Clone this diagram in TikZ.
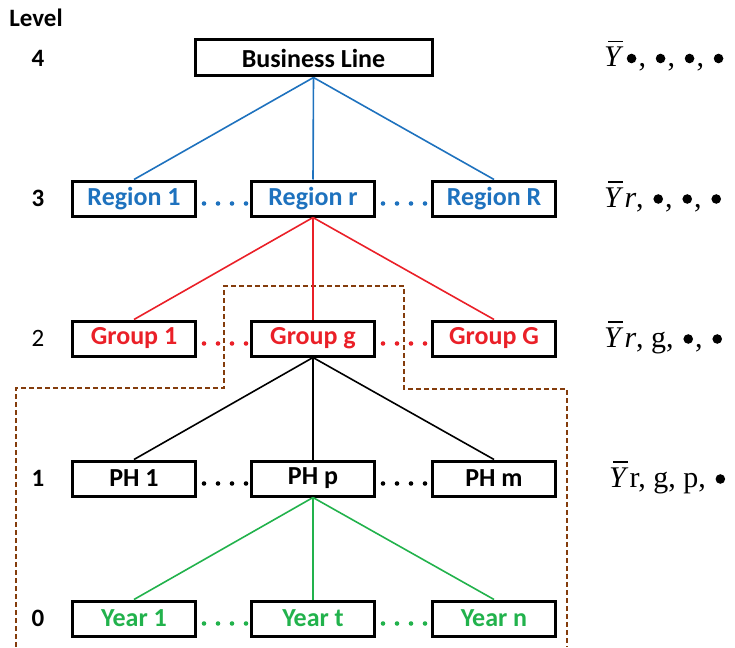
\documentclass[tikz,border=0pt]{standalone}
\usepackage{fontspec}
\setmainfont{Carlito}
\newfontfamily\symf{Liberation Serif}
\definecolor{cblue}{RGB}{30,114,190}
\definecolor{cred}{RGB}{234,32,40}
\definecolor{cgreen}{RGB}{34,178,76}
\definecolor{cbrown}{RGB}{132,60,12}
% mean symbol: italic Y with a short bar
\newcommand{\ybar}{\rlap{\hspace{0.13em}\rule[0.82em]{0.5em}{0.05em}}\textit{Y}}
% large placeholder bullet
\newcommand{\bul}{\hbox to 14pt{\hss\tikz[baseline={(0pt,-8.5pt)}]{\fill (0pt,0pt) circle (4.8pt);}\hss}}
\begin{document}
\begin{tikzpicture}[x=1pt,y=-1pt,
  box/.style={draw=black, line width=3pt, minimum width=123pt, minimum height=35pt,
    inner sep=0pt, font=\fontsize{26}{30}\selectfont\bfseries},
  conn/.style={line width=1.6pt},
  lvl/.style={font=\fontsize{25}{30}\selectfont\bfseries, inner sep=0pt},
  mean/.style={anchor=base west, inner sep=0pt, font=\symf\fontsize{30}{34}\selectfont},
  boundary/.style={draw=cbrown, line width=2pt, dash pattern=on 5pt off 3pt}]
\useasboundingbox (0,0) rectangle (735,647);

% level labels
\node[lvl] (lev) at (36,18) {Level};
\node[lvl] (l4) at (38,58) {4};
\node[lvl] (l3) at (38,198.5) {3};
\node[lvl, font=\fontsize{25}{30}\selectfont] (l2) at (38,338.5) {2};
\node[lvl] (l1) at (38,478.5) {1};
\node[lvl] (l0) at (38,618.5) {0};

% dashed boundary
\draw[boundary] (16,647) -- (16,388) -- (224,388) -- (224,286) -- (404,286)
  -- (404,389) -- (567,389) -- (567,647);

% boxes
\node[box, minimum width=237pt, minimum height=36pt] (bl) at (313.5,58) {Business Line};

\node[box, text=cblue] (r1) at (134,198.5) {Region 1};
\node[box, text=cblue] (rr) at (313,198.5) {Region r};
\node[box, text=cblue] (rR) at (494,198.5) {Region R};

\node[box, text=cred] (g1) at (134,338.5) {Group 1};
\node[box, text=cred] (gg) at (313,338.5) {Group g};
\node[box, text=cred] (gG) at (494,338.5) {Group G};

\node[box] (p1) at (134,478.5) {PH 1};
\node[box] (pp) at (313,478.5) {PH p};
\node[box] (pm) at (494,478.5) {PH m};

\node[box, text=cgreen] (y1) at (134,618.5) {Year 1};
\node[box, text=cgreen] (yt) at (313,618.5) {Year t};
\node[box, text=cgreen] (yn) at (494,618.5) {Year n};

% connectors
\draw[conn, cblue] (bl.south) -- (r1.north);
\draw[conn, cblue] (bl.south) -- (rr.north);
\draw[conn, cblue] (bl.south) -- (rR.north);
\draw[conn, cred] (rr.south) -- (g1.north);
\draw[conn, cred] (rr.south) -- (gg.north);
\draw[conn, cred] (rr.south) -- (gG.north);
\draw[conn, black] (gg.south) -- (p1.north);
\draw[conn, black] (gg.south) -- (pp.north);
\draw[conn, black] (gg.south) -- (pm.north);
\draw[conn, cgreen] (pp.south) -- (y1.north);
\draw[conn, cgreen] (pp.south) -- (yt.north);
\draw[conn, cgreen] (pp.south) -- (yn.north);

% ellipsis dots between boxes
\foreach \yy/\cc in {203.5/cblue, 343.5/cred, 483.5/black, 623.5/cgreen}{
  \foreach \xx in {204,218,232,246,383,397,411,425}
    \fill[\cc] (\xx,\yy) circle (2.3pt);
}

% mean labels
\node[mean] (m4) at (604,67) {\ybar\kern1pt\bul, \bul, \bul, \bul};
\node[mean] (m3) at (604,207.5) {\ybar\kern1pt\textit{r}, \bul, \bul, \bul};
\node[mean] (m2) at (604,347.5) {\ybar\kern1pt\textit{r}, g, \bul, \bul};
\node[mean] (m1) at (609,487.5) {\ybar\kern1pt r, g, p, \bul};
\end{tikzpicture}
\end{document}
